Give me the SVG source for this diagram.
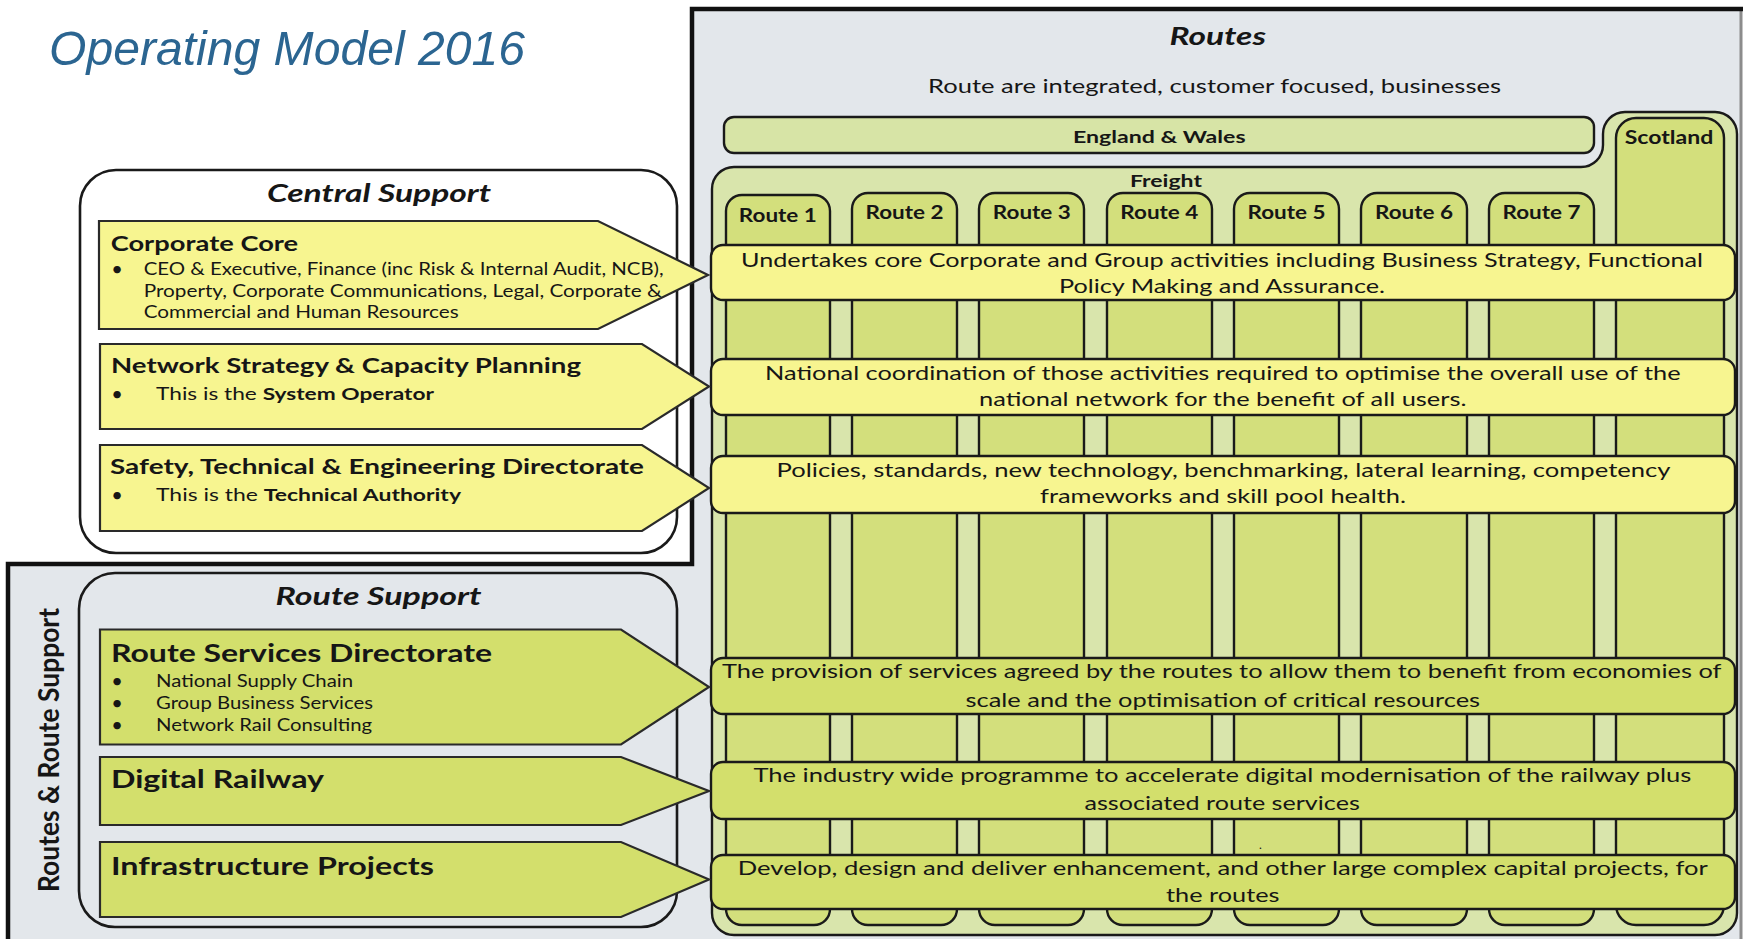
<svg xmlns="http://www.w3.org/2000/svg" width="1746" height="939" viewBox="0 0 1746 939">
<style>
text{font-family:Lato,"Open Sans","DejaVu Sans",sans-serif;fill:#161616}
.title{font-family:"Liberation Sans",Arial,sans-serif;font-style:italic;font-size:48px;fill:#2b6591}
.sec{font-weight:bold;font-style:italic;font-size:25px}
.h21{font-weight:bold;font-size:21.5px}
.h24{font-weight:bold;font-size:24.5px}
.b16{font-size:17px}
.b17{font-size:17.5px}
.lbl{font-weight:bold;font-size:19.5px}
.lbl17{font-weight:bold;font-size:17.5px}
.desc{font-size:20px}
.bul{font-size:20px;text-anchor:middle}
.frame{fill:none;stroke:#111;stroke-width:4.5}
.box{stroke:#1a1a1a;stroke-width:2.4}
.yel{fill:#f7f590}
.grn{fill:#d3df6c}
.col{fill:#d3df7c;stroke:#1a1a1a;stroke-width:2.4}
.arrow{stroke:#2a2a2a;stroke-width:2.2}
</style>
<rect width="1746" height="939" fill="#ffffff"/>
<path d="M8,939 V564 H692 V9 H1741 V939 Z" fill="#e3e7eb"/>
<line x1="1741" y1="9" x2="1741" y2="939" stroke="#8c8c8c" stroke-width="3"/>
<path class="frame" d="M8,939 V564 H692 V9 H1743"/>

<text class="title" x="49" y="65" textLength="476" lengthAdjust="spacingAndGlyphs">Operating Model 2016</text>

<g id="routes">
  <text class="sec" x="1169.5" y="45" textLength="96.5" lengthAdjust="spacingAndGlyphs">Routes</text>
  <text class="desc" x="928" y="92.7" textLength="573" lengthAdjust="spacingAndGlyphs">Route are integrated, customer focused, businesses</text>
</g>

<g id="england-wales">
  <rect class="box" x="724" y="117" width="870" height="36" rx="10" fill="#d7e4a6"/>
  <text class="lbl17" x="1073" y="143.3" textLength="172.6" lengthAdjust="spacingAndGlyphs">England &amp; Wales</text>
</g>

<g id="freight">
  <path class="box" fill="#d9e5ac" d="M734,167 H1581 A22,22 0 0 0 1603,145 V134 A22,22 0 0 1 1625,112 H1715 A22,22 0 0 1 1737,134 V913 A22,22 0 0 1 1715,935 H734 A22,22 0 0 1 712,913 V189 A22,22 0 0 1 734,167 Z"/>
  <text class="lbl17" x="1130" y="187.3" textLength="72" lengthAdjust="spacingAndGlyphs">Freight</text>
</g>

<g id="scotland">
  <rect class="col" x="1616" y="118" width="108" height="807" rx="20"/>
  <text class="lbl" x="1624.7" y="144.3" textLength="88.6" lengthAdjust="spacingAndGlyphs">Scotland</text>
</g>

<g id="route1"><rect class="col" x="726" y="195" width="104" height="730" rx="16"/><text class="lbl" x="738.8" y="221.7" textLength="78" lengthAdjust="spacingAndGlyphs">Route 1</text></g>
<g id="route2"><rect class="col" x="852" y="193" width="105" height="732" rx="16"/><text class="lbl" x="865.5" y="219.3" textLength="78" lengthAdjust="spacingAndGlyphs">Route 2</text></g>
<g id="route3"><rect class="col" x="979" y="193" width="105" height="732" rx="16"/><text class="lbl" x="992.8" y="219.3" textLength="78" lengthAdjust="spacingAndGlyphs">Route 3</text></g>
<g id="route4"><rect class="col" x="1107" y="193" width="105" height="732" rx="16"/><text class="lbl" x="1120.3" y="219.3" textLength="78" lengthAdjust="spacingAndGlyphs">Route 4</text></g>
<g id="route5"><rect class="col" x="1234" y="193" width="105" height="732" rx="16"/><text class="lbl" x="1247.5" y="219.3" textLength="78" lengthAdjust="spacingAndGlyphs">Route 5</text></g>
<g id="route6"><rect class="col" x="1361" y="193" width="106" height="732" rx="16"/><text class="lbl" x="1375" y="219.3" textLength="78" lengthAdjust="spacingAndGlyphs">Route 6</text></g>
<g id="route7"><rect class="col" x="1489" y="193" width="105" height="732" rx="16"/><text class="lbl" x="1502.5" y="219.3" textLength="78" lengthAdjust="spacingAndGlyphs">Route 7</text></g>

<g id="central-support">
  <rect x="80" y="170" width="597" height="383" rx="36" fill="#ffffff" stroke="#1a1a1a" stroke-width="2.6"/>
  <text class="sec" x="267" y="202" textLength="224" lengthAdjust="spacingAndGlyphs">Central Support</text>
</g>

<g id="route-support">
  <rect x="79" y="573" width="598" height="354" rx="36" fill="none" stroke="#1a1a1a" stroke-width="2.6"/>
  <text class="sec" x="275.5" y="605" textLength="206" lengthAdjust="spacingAndGlyphs">Route Support</text>
</g>

<g id="routes-route-support-label">
  <text class="h24" transform="translate(59,892) rotate(-90)" x="0" y="0" textLength="284" lengthAdjust="spacingAndGlyphs" style="font-size:28px">Routes &amp; Route Support</text>
</g>

<g id="desc-corporate">
  <rect class="box yel" x="711" y="245" width="1024" height="55" rx="12"/>
  <text class="desc" x="741" y="266.7" textLength="962" lengthAdjust="spacingAndGlyphs">Undertakes core Corporate and Group activities including Business Strategy, Functional</text>
  <text class="desc" x="1059" y="292.7" textLength="326" lengthAdjust="spacingAndGlyphs">Policy Making and Assurance.</text>
</g>
<g id="desc-network">
  <rect class="box yel" x="711" y="359" width="1024" height="56" rx="12"/>
  <text class="desc" x="765" y="380" textLength="915.6" lengthAdjust="spacingAndGlyphs">National coordination of those activities required to optimise the overall use of the</text>
  <text class="desc" x="979" y="406" textLength="487.5" lengthAdjust="spacingAndGlyphs">national network for the benefit of all users.</text>
</g>
<g id="desc-safety">
  <rect class="box yel" x="711" y="456" width="1024" height="57" rx="12"/>
  <text class="desc" x="776.5" y="476.7" textLength="894" lengthAdjust="spacingAndGlyphs">Policies, standards, new technology, benchmarking, lateral learning, competency</text>
  <text class="desc" x="1040" y="503.3" textLength="366" lengthAdjust="spacingAndGlyphs">frameworks and skill pool health.</text>
</g>
<g id="desc-route-services">
  <rect class="box grn" x="711" y="658" width="1024" height="56" rx="12"/>
  <text class="desc" x="722" y="678.3" textLength="999.5" lengthAdjust="spacingAndGlyphs">The provision of services agreed by the routes to allow them to benefit from economies of</text>
  <text class="desc" x="965.5" y="706.7" textLength="514.6" lengthAdjust="spacingAndGlyphs">scale and the optimisation of critical resources</text>
</g>
<g id="desc-digital">
  <rect class="box grn" x="711" y="762" width="1024" height="57" rx="12"/>
  <text class="desc" x="753.4" y="781.7" textLength="938" lengthAdjust="spacingAndGlyphs">The industry wide programme to accelerate digital modernisation of the railway plus</text>
  <text class="desc" x="1084.5" y="810" textLength="275.3" lengthAdjust="spacingAndGlyphs">associated route services</text>
</g>
<text x="1259" y="849" style="font-size:12px">.</text>
<g id="desc-infrastructure">
  <rect class="box grn" x="711" y="855" width="1024" height="54" rx="12"/>
  <text class="desc" x="737.8" y="875" textLength="970" lengthAdjust="spacingAndGlyphs">Develop, design and deliver enhancement, and other large complex capital projects, for</text>
  <text class="desc" x="1166" y="901.7" textLength="113.5" lengthAdjust="spacingAndGlyphs">the routes</text>
</g>

<g id="corporate-core">
  <path class="arrow yel" d="M99,221 L598,221 L708,275 L598,329 L99,329 Z"/>
  <text class="h21" x="110.7" y="250.7" textLength="187.5" lengthAdjust="spacingAndGlyphs">Corporate Core</text>
  <text class="bul" x="117" y="276">•</text>
  <text class="b16" x="143.7" y="275" textLength="520" lengthAdjust="spacingAndGlyphs">CEO &amp; Executive, Finance (inc Risk &amp; Internal Audit, NCB),</text>
  <text class="b16" x="143.7" y="296.5" textLength="518" lengthAdjust="spacingAndGlyphs">Property, Corporate Communications, Legal, Corporate &amp;</text>
  <text class="b16" x="143.7" y="318" textLength="315" lengthAdjust="spacingAndGlyphs">Commercial and Human Resources</text>
</g>

<g id="network-strategy">
  <path class="arrow yel" d="M100,344 L642,344 L709,386.5 L642,429 L100,429 Z"/>
  <text class="h21" x="111" y="373.3" textLength="470" lengthAdjust="spacingAndGlyphs">Network Strategy &amp; Capacity Planning</text>
  <text class="bul" x="117" y="401">•</text>
  <text class="b17" x="156" y="400" textLength="278" lengthAdjust="spacingAndGlyphs">This is the <tspan font-weight="bold">System Operator</tspan></text>
</g>

<g id="safety-technical">
  <path class="arrow yel" d="M100,445 L642,445 L709,488 L642,531 L100,531 Z"/>
  <text class="h21" x="110" y="474" textLength="534" lengthAdjust="spacingAndGlyphs">Safety, Technical &amp; Engineering Directorate</text>
  <text class="bul" x="117" y="502">•</text>
  <text class="b17" x="156" y="501" textLength="305" lengthAdjust="spacingAndGlyphs">This is the <tspan font-weight="bold">Technical Authority</tspan></text>
</g>

<g id="route-services">
  <path class="arrow grn" d="M100,629.5 L621,629.5 L709,687 L621,744.5 L100,744.5 Z"/>
  <text class="h24" x="111" y="662.3" textLength="381" lengthAdjust="spacingAndGlyphs">Route Services Directorate</text>
  <text class="bul" x="117" y="688.3">•</text>
  <text class="b16" x="156" y="687.3" textLength="197" lengthAdjust="spacingAndGlyphs">National Supply Chain</text>
  <text class="bul" x="117" y="710.3">•</text>
  <text class="b16" x="156" y="709.3" textLength="217" lengthAdjust="spacingAndGlyphs">Group Business Services</text>
  <text class="bul" x="117" y="731.7">•</text>
  <text class="b16" x="156" y="730.7" textLength="216" lengthAdjust="spacingAndGlyphs">Network Rail Consulting</text>
</g>

<g id="digital-railway">
  <path class="arrow grn" d="M100,757 L621,757 L709,791 L621,825 L100,825 Z"/>
  <text class="h24" x="111" y="788" textLength="213" lengthAdjust="spacingAndGlyphs">Digital Railway</text>
</g>

<g id="infrastructure-projects">
  <path class="arrow grn" d="M100,842 L621,842 L709,879.5 L621,917 L100,917 Z"/>
  <text class="h24" x="111" y="875" textLength="323" lengthAdjust="spacingAndGlyphs">Infrastructure Projects</text>
</g>

<g id="connectors"></g>
</svg>
